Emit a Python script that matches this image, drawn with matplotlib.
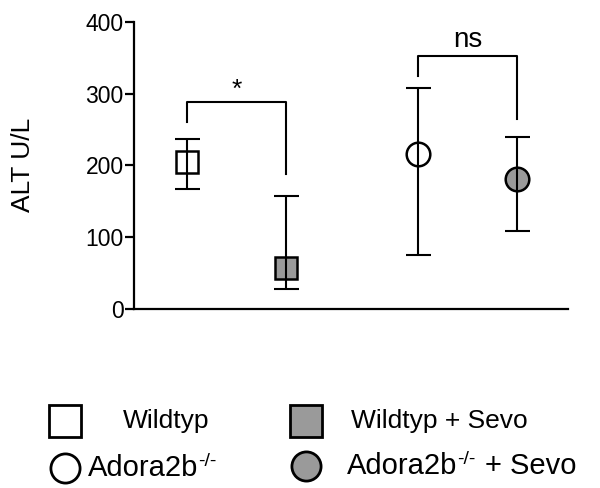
import numpy as np
import matplotlib.pyplot as plt

plt.rcParams['font.family'] = ['Liberation Sans', 'DejaVu Sans']

# group means and error range (ALT U/L)
groups = ['Wildtyp', 'Wildtyp + Sevo', 'Adora2b', 'Adora2b']
suffix = ['', '', '', '+ Sevo']
superscript = ['', '', '-/-', '-/-']
xpos = [1, 2, 3.33, 4.33]
means = [205, 57, 216, 181]
lower = [167, 28, 75, 109]
upper = [237, 158, 308, 239]
markers = ['s', 's', 'o', 'o']
fills = ['white', '#9a9a9a', 'white', '#9a9a9a']

# significance brackets: (x1, x2, bar height, left leg end, right leg end, label)
brackets = [(1, 2, 288, 260, 188, '*'),
            (3.33, 4.33, 352, 324, 264, 'ns')]

fig = plt.figure(figsize=(6, 4.88), dpi=100)
ax = fig.add_axes([0.2233, 0.3668, 0.7234, 0.5887])

for x, m, lo, hi, mk, fc in zip(xpos, means, lower, upper, markers, fills):
    ax.plot(x, m, marker=mk, markersize=17 if mk == 'o' else 16.5, markerfacecolor=fc,
            markeredgecolor='black', markeredgewidth=1.8, linestyle='none', zorder=2)
    ax.errorbar(x, m, yerr=[[m - lo], [hi - m]], fmt='none', ecolor='black',
                elinewidth=1.5, capsize=9, capthick=1.5, zorder=3)

for x1, x2, h, l1, l2, lab in brackets:
    ax.plot([x1, x1, x2, x2], [l1, h, h, l2], color='black', lw=1.5, zorder=3,
            clip_on=False)
    if lab == '*':
        ax.text((x1 + x2) / 2, h + 1, lab, ha='center', va='bottom', fontsize=19)
    else:
        ax.text((x1 + x2) / 2, h + 5, lab, ha='center', va='bottom', fontsize=20)

ax.set_xlim(0.47, 4.84)
ax.set_ylim(0, 400)
ax.set_yticks([0, 100, 200, 300, 400])
ax.set_xticks([])
ax.spines['top'].set_visible(False)
ax.spines['right'].set_visible(False)
ax.spines['left'].set_linewidth(1.6)
ax.spines['bottom'].set_linewidth(1.6)
ax.tick_params(axis='y', length=6.5, width=1.6, labelsize=16.5, pad=1)
fig.text(23 / 600, 1 - 165 / 488, 'ALT U/L', rotation=90, ha='center', va='center',
         fontsize=19)

# legend drawn in pixel coordinates below the plot
lax = fig.add_axes([0, 0, 1, 98 / 488])
lax.set_xlim(0, 600)
lax.set_ylim(488, 390)
lax.axis('off')
renderer = fig.canvas.get_renderer()

leg_pos = [(65, 421, 123), (306, 421, 351), (65, 468, 88), (306, 466, 347)]
for (mx, my, tx), lab, sup, suf, mk, fc in zip(leg_pos, groups, superscript, suffix,
                                               markers, fills):
    lax.plot(mx, my, marker=mk, markersize=21 if mk == 'o' else 23,
             markerfacecolor=fc, markeredgecolor='black', markeredgewidth=2,
             linestyle='none')
    size = 21 if sup else 19
    t = lax.text(tx, my, lab, ha='left', va='center', fontsize=size)
    if sup:
        bb = t.get_window_extent(renderer)
        s = lax.text(bb.x1, 488 - bb.y1 - 1, sup, ha='left', va='top', fontsize=14)
        sb = s.get_window_extent(renderer)
        if suf:
            lax.text(sb.x1 + 9, my, suf, ha='left', va='center', fontsize=size)

fig.savefig('out.png', dpi=100)
